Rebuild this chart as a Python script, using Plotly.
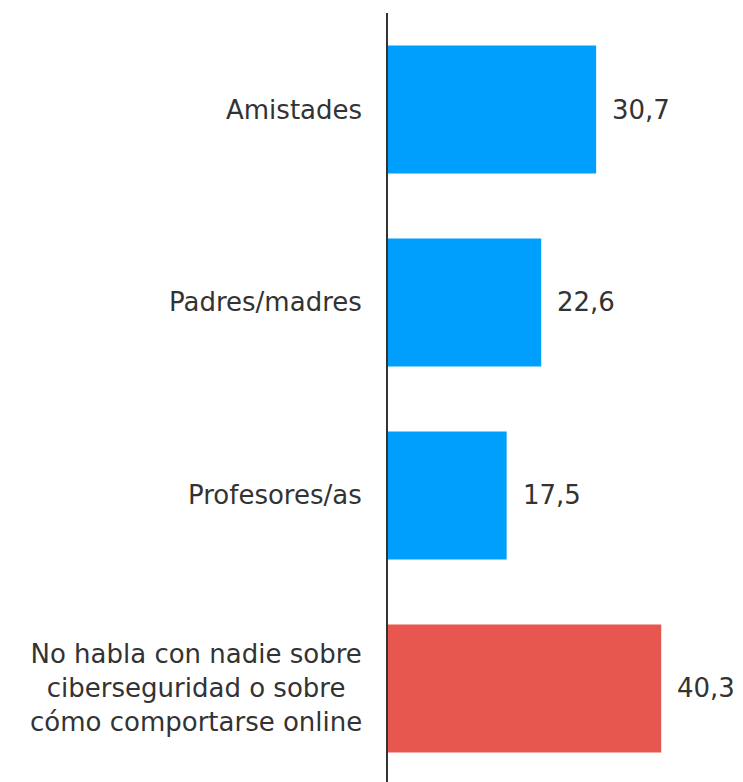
"""Horizontal bar chart: con quién hablan sobre ciberseguridad."""
import plotly.graph_objects as go

categories = [
    "Amistades",
    "Padres/madres",
    "Profesores/as",
    "No habla con nadie sobre<br>ciberseguridad o sobre<br>cómo comportarse online",
]
values = [30.7, 22.6, 17.5, 40.3]
colors = ["#009FFD", "#009FFD", "#009FFD", "#E8574F"]
labels = [f"{v:.1f}".replace(".", ",") for v in values]

FONT = "DejaVu Sans"
TEXT_COLOR = "#333333"

fig = go.Figure(go.Bar(
    x=values, y=categories, orientation="h",
    marker=dict(color=colors, line=dict(width=0)),
    hoverinfo="skip",
))

for v, c, t in zip(values, categories, labels):
    # value label right of the bar
    fig.add_annotation(x=v, y=c, text=t, showarrow=False, xanchor="left",
                       xshift=14, font=dict(family=FONT, size=26, color=TEXT_COLOR))
    # category label, centre-aligned lines (plotly ticks can't do that)
    fig.add_annotation(x=0, xref="paper", y=c, text=c, showarrow=False,
                       xanchor="right", xshift=-24, align="center",
                       font=dict(family=FONT, size=26, color=TEXT_COLOR))

# page body has an 8px margin, so margins are offset accordingly
fig.update_layout(
    width=743, height=782,
    margin=dict(l=380, r=24, t=5, b=0),
    plot_bgcolor="white", paper_bgcolor="white",
    bargap=0.337, showlegend=False,
    font=dict(family=FONT, size=26, color=TEXT_COLOR),
)
fig.update_xaxes(range=[0, 50], visible=False)
fig.update_yaxes(
    type="category", categoryorder="array", categoryarray=categories,
    range=[3.526, -0.5], showline=True, linecolor="#333333", linewidth=2,
    showgrid=False, zeroline=False, ticks="", showticklabels=False,
)

fig.write_html("out.html")
